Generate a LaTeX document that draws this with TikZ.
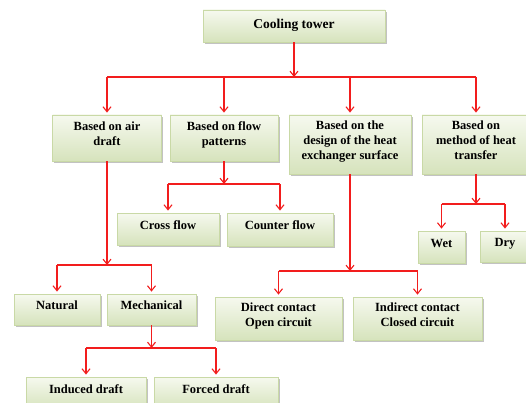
\documentclass[tikz,border=0pt]{standalone}
\usepackage{fontspec}
\setmainfont{Liberation Serif}
\usetikzlibrary{arrows.meta,shadows}

\definecolor{boxtop}{HTML}{F6F9EF}
\definecolor{boxbottom}{HTML}{D6E3BC}
\definecolor{boxline}{HTML}{C9D9A6}
\definecolor{linkred}{HTML}{F21D1D}

\tikzset{
    box/.style={draw=boxline, line width=0.8pt, top color=boxtop, bottom color=boxbottom,
        drop shadow={shadow xshift=1.6pt, shadow yshift=-1.6pt, fill=black!40, opacity=0.6},
        inner sep=0pt, text depth=8pt, align=center, font=\fontsize{12.5}{15}\selectfont\bfseries},
    link/.style={draw=linkred, line width=1.1pt},
    arr/.style={link, -{Straight Barb[length=5pt,width=8pt]}, shorten >=2pt}
}

\begin{document}
\begin{tikzpicture}[x=1pt, y=-1pt]
    \useasboundingbox (0,0) rectangle (526,403);

    % Define the boxes
    \node[box, minimum width=182, minimum height=32, text depth=5pt] (tower) at (294,26) {\fontsize{13.5}{15}\selectfont Cooling tower};
    \node[box, minimum width=109, minimum height=46] (air) at (107,138) {Based on air\\draft};
    \node[box, minimum width=108, minimum height=46] (flow) at (224,138) {Based on flow\\patterns};
    \node[box, minimum width=122, minimum height=59] (design) at (350,144.5) {Based on the\\design of the heat\\exchanger surface};
    \node[box, minimum width=108, minimum height=59] (method) at (476,144.5) {Based on\\method of heat\\transfer};

    \node[box, minimum width=102, minimum height=32] (cross) at (168,229) {Cross flow};
    \node[box, minimum width=106, minimum height=33] (counter) at (280,229.5) {Counter flow};
    \node[box, minimum width=47, minimum height=32] (wet) at (441.5,247) {Wet};
    \node[box, minimum width=50, minimum height=31] (dry) at (505,246.5) {Dry};

    \node[box, minimum width=86, minimum height=31] (natural) at (57,309.5) {Natural};
    \node[box, minimum width=89, minimum height=31] (mech) at (151.5,309.5) {Mechanical};
    \node[box, minimum width=127, minimum height=43] (direct) at (278.5,318.5) {Direct contact\\Open circuit};
    \node[box, minimum width=129, minimum height=43] (indirect) at (417.5,318.5) {Indirect contact\\Closed circuit};

    \node[box, minimum width=120, minimum height=32] (induced) at (86,393) {Induced draft};
    \node[box, minimum width=124, minimum height=32] (forced) at (216,393) {Forced draft};

    % Define the branch points
    \coordinate (jtower) at (294,77);
    \coordinate (jair) at (107,265);
    \coordinate (jmech) at (151.5,348);
    \coordinate (jflow) at (224,184);
    \coordinate (jdesign) at (350,271);
    \coordinate (jmethod) at (476,204);

    % Cooling tower
    \draw[arr, shorten >=0pt] (tower) -- (jtower);
    \draw[link] (jtower -| air) -- (jtower -| method);
    \foreach \n in {air, flow, design, method}
        \draw[arr] (jtower -| \n) -- (\n);

    % Based on air draft
    \draw[arr, shorten >=0pt] (air) -- (jair);
    \draw[link] (jair -| natural) -- (jair -| mech);
    \draw[arr] (jair -| natural) -- (natural);
    \draw[arr] (jair -| mech) -- (mech);

    % Mechanical
    \draw[arr, shorten >=0pt] (mech) -- (jmech);
    \draw[link] (jmech -| induced) -- (jmech -| forced);
    \draw[arr] (jmech -| induced) -- (induced);
    \draw[arr] (jmech -| forced) -- (forced);

    % Based on flow patterns
    \draw[arr, shorten >=0pt] (flow) -- (jflow);
    \draw[link] (jflow -| cross) -- (jflow -| counter);
    \draw[arr] (jflow -| cross) -- (cross);
    \draw[arr] (jflow -| counter) -- (counter);

    % Based on the design of the heat exchanger surface
    \draw[arr, shorten >=0pt] (design) -- (jdesign);
    \draw[link] (jdesign -| direct) -- (jdesign -| indirect);
    \draw[arr] (jdesign -| direct) -- (direct);
    \draw[arr] (jdesign -| indirect) -- (indirect);

    % Based on method of heat transfer
    \draw[arr, shorten >=0pt] (method) -- (jmethod);
    \draw[link] (jmethod -| wet) -- (jmethod -| dry);
    \draw[arr] (jmethod -| wet) -- (wet);
    \draw[arr] (jmethod -| dry) -- (dry);
\end{tikzpicture}
\end{document}
